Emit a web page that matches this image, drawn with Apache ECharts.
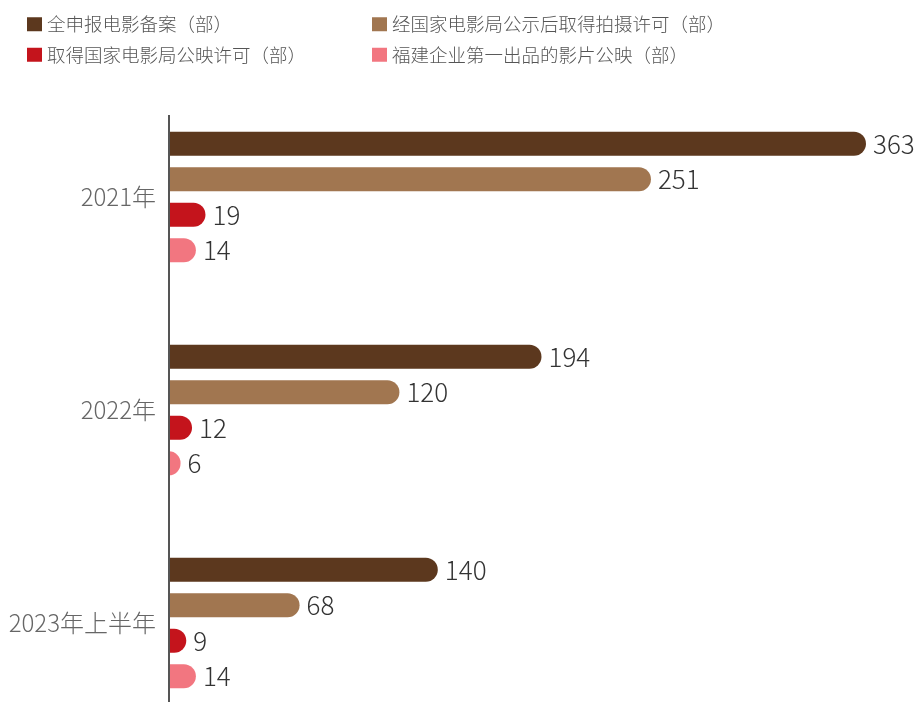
<!DOCTYPE html>
<html>
<head>
<meta charset="utf-8">
<script src="https://cdn.jsdelivr.net/npm/echarts@6/dist/echarts.min.js"></script>
<style>html,body{margin:0;padding:0;background:#fff;overflow:hidden;}#main{width:921px;height:730px;}</style>
</head>
<body>
<div id="main"></div>
<script>
var categories = ['2021年', '2022年', '2023年上半年'];
var seriesNames = ['全申报电影备案（部）', '经国家电影局公示后取得拍摄许可（部）', '取得国家电影局公映许可（部）', '福建企业第一出品的影片公映（部）'];
var filed = [363, 194, 140];
var shootingPermit = [251, 120, 68];
var releasePermit = [19, 12, 9];
var fujianReleased = [14, 6, 14];
var colors = ['#5C381E', '#A17650', '#C4141C', '#F27680'];

var FONT = '"Noto Sans CJK SC", "Noto Sans", sans-serif';
var values = [filed, shootingPermit, releasePermit, fujianReleased];
var series = values.map(function (v, i) {
  return {
    name: seriesNames[i],
    type: 'bar',
    data: v,
    barWidth: 24,
    barGap: '48%',
    itemStyle: { color: colors[i], borderRadius: [0, 12, 12, 0] },
    label: {
      show: true, position: 'right', distance: 7,
      color: '#333', fontSize: 26, fontFamily: FONT, fontWeight: 300
    }
  };
});

var chart = echarts.init(document.getElementById('main'));
chart.setOption({
  animation: false,
  backgroundColor: '#fff',
  legend: [{
    data: [seriesNames[0], seriesNames[2]],
    orient: 'vertical', left: 27, top: 15, padding: 0, itemWidth: 15, itemHeight: 14, itemGap: 12,
    icon: 'rect', textStyle: { fontSize: 18.5, color: '#555', fontFamily: FONT, fontWeight: 300 }
  }, {
    data: [seriesNames[1], seriesNames[3]],
    orient: 'vertical', left: 372, top: 15, padding: 0, itemWidth: 15, itemHeight: 14, itemGap: 12,
    icon: 'rect', textStyle: { fontSize: 18.5, color: '#555', fontFamily: FONT, fontWeight: 300 }
  }],
  grid: { left: 169, right: 55, top: 90.5, bottom: 0.5, containLabel: false },
  xAxis: { type: 'value', min: 0, max: 363, show: false },
  yAxis: {
    type: 'category', data: categories, inverse: true,
    axisLine: { show: false }, axisTick: { show: false },
    axisLabel: { fontSize: 24, color: '#666', margin: 13, fontFamily: FONT, fontWeight: 300 }
  },
  graphic: [{
    type: 'line', z: 10,
    shape: { x1: 169, y1: 115, x2: 169, y2: 730 },
    style: { stroke: '#555', lineWidth: 2 }
  }],
  series: series
});
</script>
</body>
</html>
